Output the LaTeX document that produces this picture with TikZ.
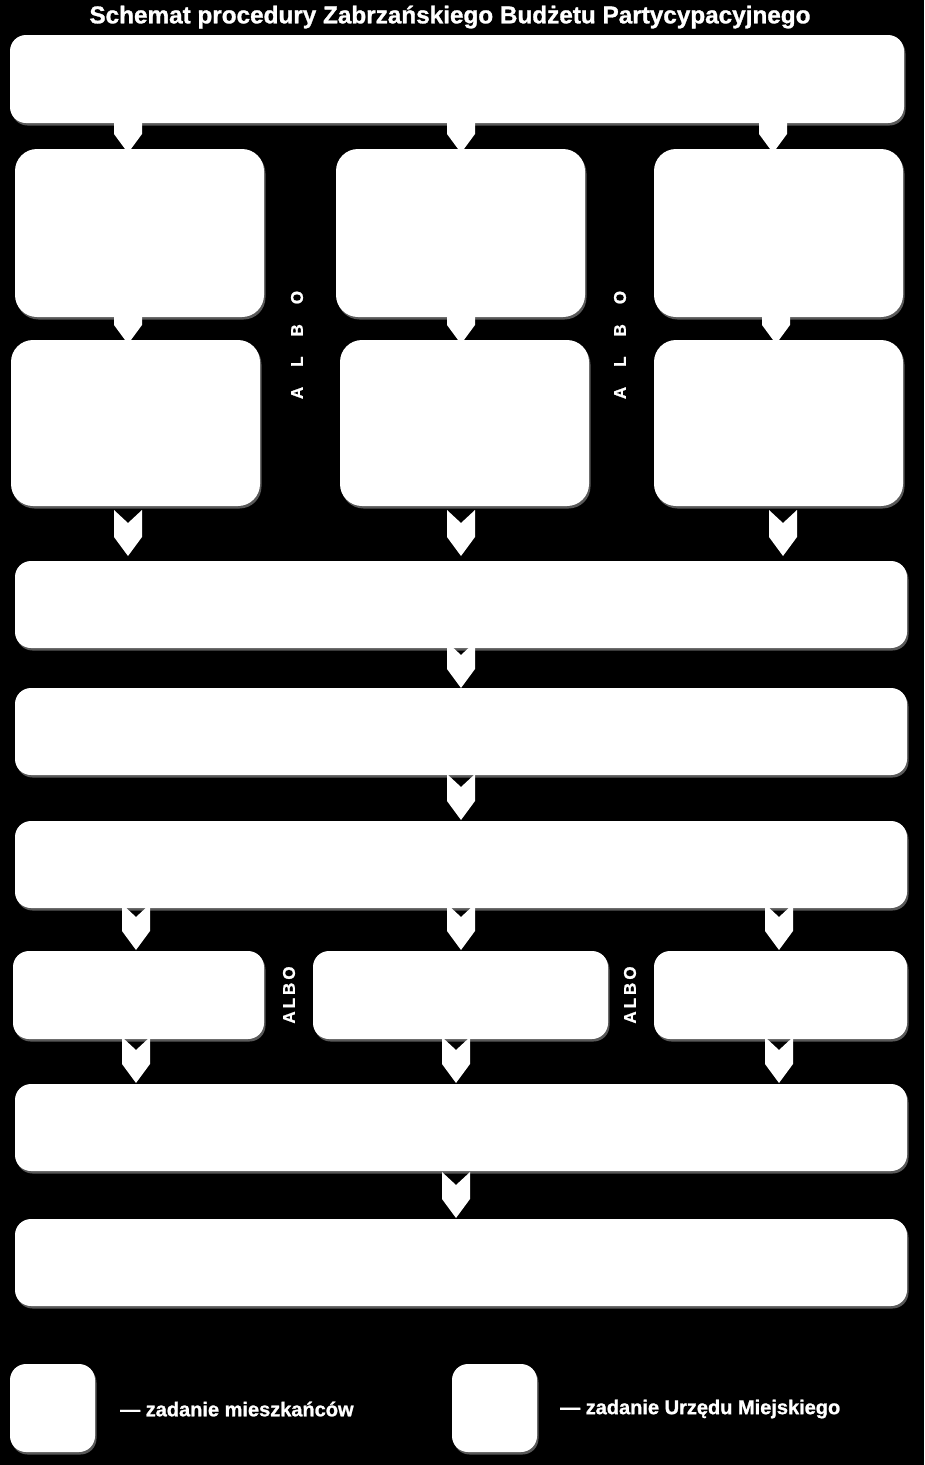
\documentclass[tikz,border=0pt]{standalone}
\usepackage{fontspec}
\setmainfont{Liberation Sans}
\newfontfamily\heavyfont[FakeBold=1.2]{Liberation Sans Bold}
\usetikzlibrary{shadows}
\newcommand\bx[6][16pt]{\node[box, rounded corners=#1, minimum width={#5-#3}, minimum height={#6-#4}] (#2) at ({(#3+#5)/2},{(#4+#6)/2}) {};}
\begin{document}
\begin{tikzpicture}[x=1pt,y=-1pt,
  box/.style={draw=none, fill=white, inner sep=0pt,
    drop shadow={shadow xshift=1.5pt, shadow yshift=-2.5pt, fill=white, opacity=0.35}},
  chev/.pic={\fill[white] (-14,-46) -- (0,-33) -- (14,-46) -- (14,-19) -- (0,0) -- (-14,-19) -- cycle;},
  albo/.style={text=white, font=\heavyfont\fontsize{17}{17}\selectfont, rotate=90, inner sep=0pt},
  lbl/.style={text=white, font=\heavyfont\fontsize{20}{20}\selectfont, inner sep=0pt, anchor=west},
]
\fill[black] (0,0) rectangle (924,1465);
\useasboundingbox (0,0) rectangle (924,1465);

\node[text=white, font=\heavyfont\fontsize{24.3}{24.3}\selectfont, inner sep=0pt] (title) at (450,17)
  {Schemat procedury Zabrzańskiego Budżetu Partycypacyjnego};

% chevron connectors
\foreach \x in {128,461,773} \pic at (\x,153) {chev};
\foreach \x in {128,461,776} \pic at (\x,344) {chev};
\foreach \x in {128,461,783} \pic at (\x,556) {chev};
\pic at (461,688) {chev};
\pic at (461,820) {chev};
\foreach \x in {136,461,779} \pic at (\x,950) {chev};
\foreach \x in {136,456,779} \pic at (\x,1083) {chev};
\pic at (456,1218) {chev};

% boxes
\bx{top}{10}{35}{904}{123}
\bx[22pt]{ra}{15}{149}{264}{317}
\bx[22pt]{rb}{336}{149}{585}{317}
\bx[22pt]{rc}{654}{149}{903}{317}
\bx[22pt]{sa}{11}{340}{260}{506}
\bx[22pt]{sb}{340}{340}{589}{506}
\bx[22pt]{sc}{654}{340}{903}{506}
\bx{b4}{15}{561}{907}{648}
\bx{b5}{15}{688}{907}{775}
\bx{b6}{15}{821}{907}{908}
\bx{ta}{13}{951}{264}{1039}
\bx{tb}{313}{951}{608}{1039}
\bx{tc}{654}{951}{907}{1039}
\bx{b7}{15}{1084}{907}{1171}
\bx{b8}{15}{1219}{907}{1306}
\bx{la}{10}{1364}{95}{1452}
\bx{lb}{452}{1364}{537}{1452}

% ALBO labels
\node[albo] (o1) at (297,345) {A\hspace{20pt}L\hspace{20pt}B\hspace{20pt}O};
\node[albo] (o2) at (620,345) {A\hspace{20pt}L\hspace{20pt}B\hspace{20pt}O};
\node[albo] (o3) at (289,995) {A\hspace{3pt}L\hspace{3pt}B\hspace{3pt}O};
\node[albo] (o4) at (630,995) {A\hspace{3pt}L\hspace{3pt}B\hspace{3pt}O};

% legend
\node[lbl] (t1) at (120,1409) {— zadanie mieszkańców};
\node[lbl] (t2) at (560,1409) {— zadanie Urzędu Miejskiego};
\end{tikzpicture}
\end{document}
